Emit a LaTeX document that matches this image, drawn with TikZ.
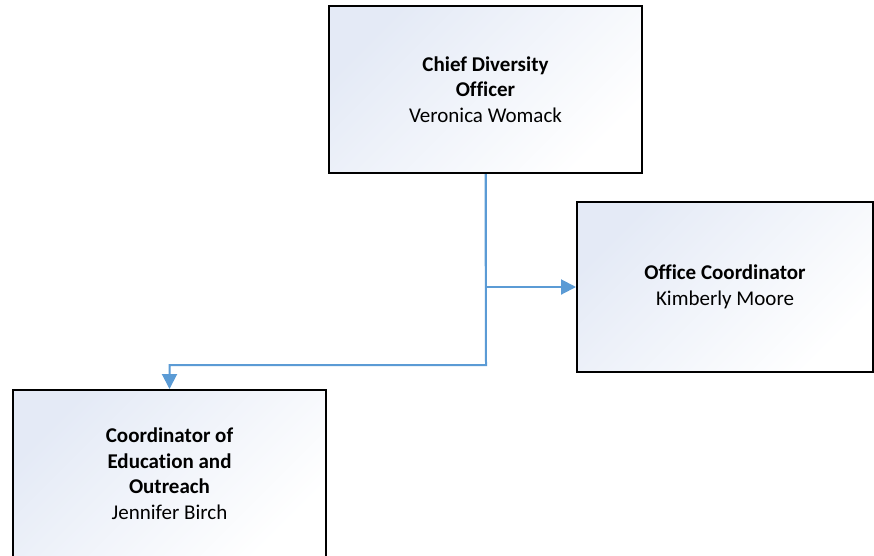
\documentclass[tikz,border=0pt]{standalone}
\usepackage{fontspec}
\setmainfont{Carlito}[Ligatures=NoCommon]
\usepackage{tikz}
\usetikzlibrary{arrows.meta, positioning, calc}
\usepackage{xcolor}
\definecolor{linkblue}{RGB}{91,155,213}
\definecolor{boxtint}{RGB}{228,234,246}

\tikzset{
  person/.style={draw=black, line width=2pt, rectangle, align=center,
    top color=boxtint, bottom color=white, shading angle=45,
    font=\fontsize{21}{25.5}\selectfont, inner sep=0pt},
  link/.style={draw=linkblue, line width=2pt,
    -{Triangle[length=15pt,width=15pt]}}
}

\begin{document}
\begin{tikzpicture}[x=1pt, y=-1pt]
  \useasboundingbox (0,0) rectangle (874,555);
  \clip (0,0) rectangle (874,555);
  % boxes
  \node[person, minimum width=313pt, minimum height=167pt] (cdo) at (485.5,89.5)
    {\textbf{Chief Diversity}\\\textbf{Officer}\\Veronica Womack};
  \node[person, minimum width=296pt, minimum height=170pt] (oc) at (725,287)
    {\textbf{Office Coordinator}\\Kimberly Moore};
  \node[person, minimum width=313pt, minimum height=167pt] (coe) at (169.5,473.5)
    {\textbf{Coordinator of}\\\textbf{Education and}\\\textbf{Outreach}\\Jennifer Birch};
  % connectors
  \coordinate (split) at (486,365);
  \draw[link] (cdo.south) |- (oc.west);
  \draw[link] (cdo.south) -- (split) -| (coe.north);
\end{tikzpicture}
\end{document}
